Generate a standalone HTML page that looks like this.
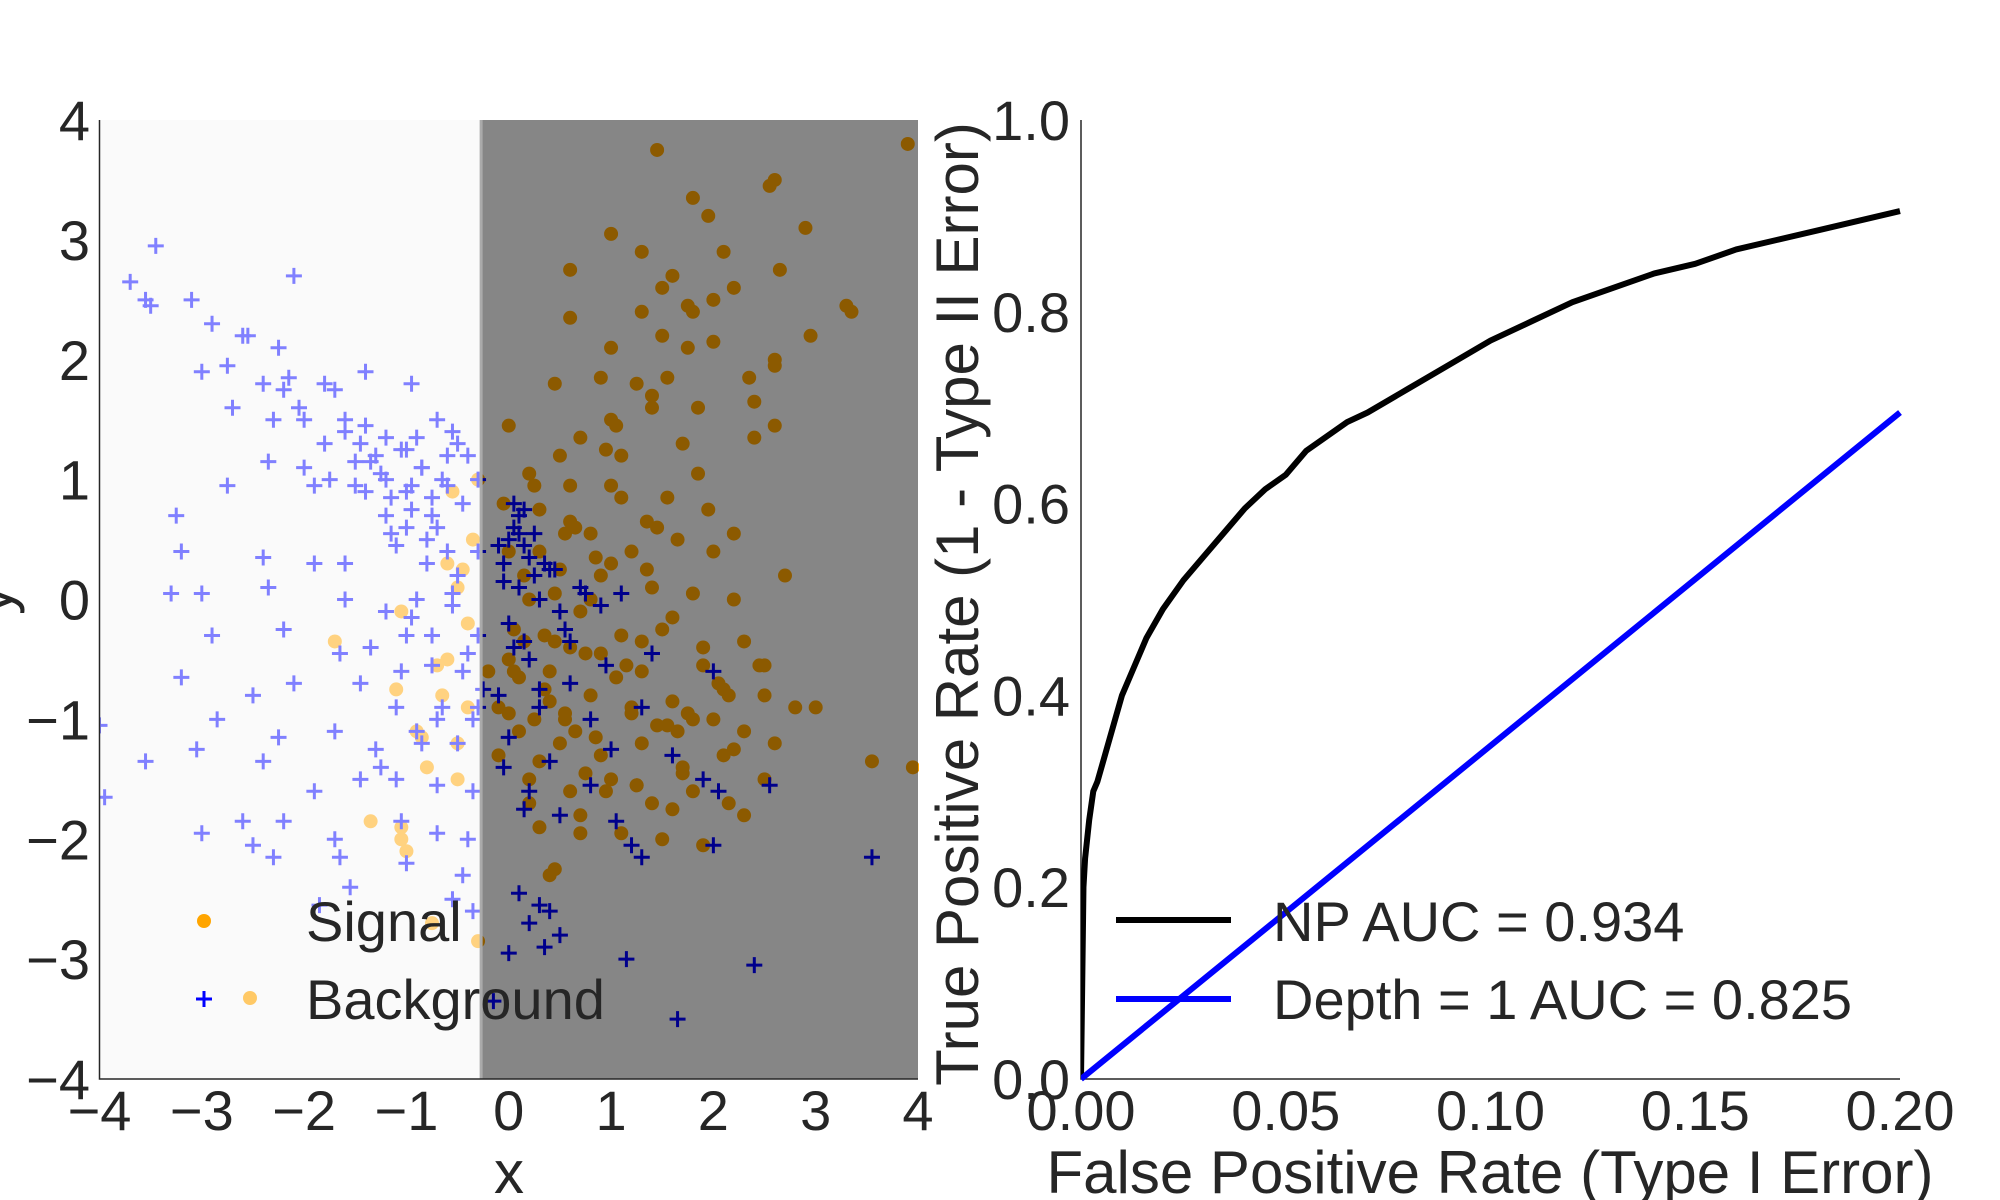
<!DOCTYPE html>
<html><head><meta charset="utf-8"><style>
html,body{margin:0;padding:0;background:#fff;}
svg{display:block;font-family:"Liberation Sans",sans-serif;}
</style></head><body>
<svg id="chart" width="2000" height="1200" viewBox="0 0 2000 1200">
<defs>
<clipPath id="clipL"><rect x="99" y="120" width="820" height="960"/></clipPath>
<clipPath id="clipR"><rect x="1081" y="115" width="825" height="968"/></clipPath>
</defs>
<g id="left"></g>
<g id="right"></g>
</svg>
<script>
const NS="http://www.w3.org/2000/svg";
// ---- scatter data ----
const signalX=[3.9,1.45,2.55,2.6,1.8,1.95,2.9,1.0,1.3,1.6,2.1,0.6,2.0,2.2,2.65,3.3,3.35,1.3,1.8,0.6,1.5,1.75,2.0,2.6,2.95,1.0,0.9,1.25,1.55,2.6,0.45,1.4,2.4,2.6,0.0,0.7,1.1,1.7,2.4,0.2,0.5,1.0,1.55,1.95,2.2,-0.05,0.3,0.6,0.8,1.2,1.65,2.0,0.0,0.5,0.9,1.4,1.8,2.2,0.2,0.7,1.1,1.5,1.9,2.5,2.5,0.0,0.4,0.8,1.2,1.6,2.0,2.3,2.8,3.0,0.1,0.5,0.9,1.3,1.7,2.1,2.6,0.2,0.6,1.0,1.4,1.8,2.5,3.55,3.95,0.3,0.7,1.1,1.5,1.9,2.3,0.4,0.45,-0.1,-0.1,0.3,0.8,1.3,0.6,-0.3,-0.55,-0.6,-0.5,-0.4,-1.05,-0.6,-0.65,-1.1,-0.4,-0.5,-0.85,-0.8,-0.5,-1.35,-1.05,-1.05,-1.0,-0.75,-0.3,-1.7,-0.35,0.15,0.35,0.75,1.05,1.45,1.75,0.25,0.65,1.0,1.35,1.7,0.05,0.55,0.95,0.1,0.35,0.55,0.85,1.15,1.35,1.6,1.85,2.1,2.3,0.05,0.25,0.45,0.65,0.9,1.1,1.25,1.45,1.65,1.85,2.05,2.35,2.7,0.15,0.4,0.6,0.85,1.05,1.3,1.55,1.75,2.15,0.0,0.3,0.55,0.75,1.0,1.2,1.4,1.6,1.9,2.2,2.45,0.2,0.45,0.7,0.95,1.25,1.5,1.8,2.15,-0.2,-0.45,-0.7,-0.9];
const signalY=[3.8,3.75,3.45,3.5,3.35,3.2,3.1,3.05,2.9,2.7,2.9,2.75,2.5,2.6,2.75,2.45,2.4,2.4,2.4,2.35,2.2,2.1,2.15,2.0,2.2,2.1,1.85,1.8,1.85,1.95,1.8,1.6,1.65,1.45,1.45,1.35,1.2,1.3,1.35,1.05,1.2,0.95,0.85,0.75,0.55,0.8,0.75,0.65,0.55,0.4,0.5,0.4,0.4,0.25,0.2,0.1,0.05,0.0,0.0,-0.1,-0.3,-0.25,-0.4,-0.55,-0.8,-0.5,-0.6,-0.8,-0.9,-0.85,-1.0,-1.1,-0.9,-0.9,-1.1,-1.2,-1.3,-1.2,-1.4,-1.3,-1.2,-1.5,-1.6,-1.5,-1.7,-1.6,-1.5,-1.35,-1.4,-1.9,-1.8,-1.95,-2.0,-2.05,-1.8,-2.3,-2.25,-0.9,-1.3,0.4,0.0,-0.6,-0.4,1.0,0.9,0.3,0.1,-0.2,-0.1,-0.5,-0.8,-0.75,-0.9,-1.2,-1.15,-1.4,-1.5,-1.85,-1.9,-2.0,-2.1,-2.7,-2.85,-0.35,0.5,-0.35,-0.75,-0.45,-0.65,-1.05,-0.95,0.95,0.6,1.5,0.25,-1.45,-0.6,-1.0,-1.6,-0.65,-0.3,-0.95,0.35,-0.55,0.65,-0.15,1.05,-0.75,-0.35,-0.25,-1.0,0.05,-1.1,-0.45,0.85,-1.55,0.6,-1.1,1.6,-0.7,1.85,0.2,0.2,-0.85,0.95,-1.15,1.45,-0.35,-1.05,2.45,-0.8,-0.95,-1.35,0.55,-1.45,0.3,-0.95,1.7,-1.75,-0.55,-1.25,-0.55,-1.7,-0.35,-1.95,1.25,-1.55,2.6,-1.0,-1.7,-0.6,0.25,-0.55,-1.1];
const bgX=[-3.45,-3.7,-3.5,-3.55,-3.1,-2.1,-2.9,-2.6,-2.55,-2.25,-3.0,-2.75,-2.4,-2.2,-1.8,-1.7,-1.4,-0.95,-2.7,-2.3,-2.05,-1.6,-1.4,-1.2,-0.9,-0.6,-0.3,-2.35,-2.0,-1.75,-1.5,-1.2,-1.0,-0.75,-0.45,-3.25,-2.75,-1.2,-0.95,-0.7,-3.2,-2.4,-1.9,-1.6,-1.1,-0.8,-0.5,-3.3,-3.0,-2.35,-1.6,-1.2,-0.9,-0.55,-2.9,-2.2,-1.65,-1.35,-1.0,-0.75,-3.2,-2.5,-2.1,-1.45,-1.1,-0.7,-0.3,-2.85,-2.25,-1.7,-1.3,-0.9,-0.5,-4.0,-3.55,-3.05,-2.4,-1.9,-1.45,-1.1,-0.7,-0.35,-3.95,-2.6,-2.2,-1.7,-1.05,-0.7,-0.4,-3.0,-2.5,-1.65,-1.0,-0.45,-0.35,-0.55,-1.55,-1.85,-2.3,-0.3,-0.3,-0.7,-0.5,-1.3,-1.5,-1.0,-0.85,-0.6,-1.15,-0.4,0.05,0.1,0.0,-0.05,0.2,0.1,0.3,0.5,0.0,0.2,0.7,0.9,1.1,0.6,0.95,1.4,2.0,-0.1,0.3,0.8,1.3,0.0,0.4,1.0,1.6,2.05,2.55,-0.05,0.2,0.5,1.05,0.8,1.9,0.15,1.2,1.3,2.0,3.55,0.1,0.3,0.2,0.4,0.5,0.35,0.0,1.15,2.4,1.65,-0.15,0.6,0.25,0.4,0.15,-0.1,-1.05,-1.25,-1.45,-0.85,-0.65,-1.15,-1.35,-0.95,-0.75,-0.55,-1.6,-1.8,-2.0,-1.0,-0.8,-0.6,-0.4,-1.4,-1.9,-2.15,-0.25,-0.45,-0.65,-0.85,-1.05,-1.25,-0.35,-0.55,-0.75,-0.95,0.05,0.15,0.25,-0.05,0.1,0.35,0.45,0.55,0.75,0.15,0.3,0.05];
const bgY=[2.95,2.65,2.45,2.5,2.5,2.7,2.3,2.2,2.2,2.1,1.9,1.95,1.8,1.75,1.8,1.75,1.9,1.8,1.6,1.5,1.6,1.5,1.45,1.35,1.35,1.2,1.0,1.15,1.1,1.0,0.95,1.0,0.9,0.85,0.8,0.7,0.95,0.7,0.75,0.6,0.4,0.35,0.3,0.3,0.45,0.3,0.2,0.05,0.05,0.1,0.0,-0.1,0.0,-0.05,-0.3,-0.25,-0.45,-0.4,-0.3,-0.55,-0.65,-0.8,-0.7,-0.7,-0.9,-1.0,-0.9,-1.0,-1.15,-1.1,-1.25,-1.1,-1.2,-1.05,-1.35,-1.25,-1.35,-1.6,-1.5,-1.5,-1.55,-1.6,-1.65,-1.85,-1.85,-2.0,-1.85,-1.95,-2.0,-1.95,-2.05,-2.15,-2.2,-2.3,-2.6,-2.5,-2.4,-2.55,-2.15,-0.3,0.4,1.5,1.3,1.2,1.15,1.25,1.1,0.95,0.55,-0.45,0.8,0.7,0.5,0.3,0.35,0.1,0.0,-0.1,-0.2,-0.5,0.1,-0.05,0.05,-0.35,-0.55,-0.45,-0.6,-0.8,-0.9,-1.0,-0.9,-1.15,-1.35,-1.25,-1.3,-1.6,-1.55,-1.4,-1.6,-1.8,-1.85,-1.55,-1.5,-1.75,-2.05,-2.15,-2.05,-2.15,-2.45,-2.55,-2.7,-2.6,-2.8,-2.9,-2.95,-3.0,-3.05,-3.5,-3.35,-0.7,0.55,0.25,0.75,0.45,1.25,1.05,1.3,1.1,1.0,0.85,1.15,0.95,0.7,1.4,1.4,1.3,1.5,0.6,0.5,0.4,1.2,0.9,0.95,1.85,-0.75,-0.6,-0.9,-1.2,-0.6,-1.4,-1.0,0.05,-0.3,-0.15,0.6,0.45,0.2,0.15,0.55,0.3,0.25,-0.25,0.05,-0.35,-0.75,-0.4];
const xTicks=[-4,-3,-2,-1,0,1,2,3,4];
const yTicks=[-4,-3,-2,-1,0,1,2,3,4];
const boundary=[-0.27];
// ---- ROC data ----
const npFpr=[0,0.0003,0.0006,0.001,0.002,0.003,0.004,0.006,0.008,0.01,0.013,0.016,0.02,0.025,0.03,0.035,0.04,0.045,0.05,0.055,0.06,0.065,0.07,0.08,0.09,0.10,0.11,0.12,0.13,0.14,0.15,0.16,0.17,0.18,0.19,0.20];
const npTpr=[0,0.1,0.2,0.23,0.27,0.3,0.31,0.34,0.37,0.4,0.43,0.46,0.49,0.52,0.545,0.57,0.595,0.615,0.63,0.655,0.67,0.685,0.695,0.72,0.745,0.77,0.79,0.81,0.825,0.84,0.85,0.865,0.875,0.885,0.895,0.905];
const stumpFpr=[0,0.2];
const stumpTpr=[0,0.695];
const rocXTicks=[0.00,0.05,0.10,0.15,0.20];
const rocYTicks=[0.0,0.2,0.4,0.6,0.8,1.0];

const L={x0:99.5,x1:918,y0:1079,y1:120};
const R={x0:1081,x1:1900,y0:1079,y1:120};
const sx=v=>L.x0+(v+4)/8*(L.x1-L.x0);
const sy=v=>L.y0-(v+4)/8*(L.y0-L.y1);
const rx=v=>R.x0+v/0.2*(R.x1-R.x0);
const ry=v=>R.y0-v*(R.y0-R.y1);
const FS=56, LFS=60;
function el(tag,attrs,parent,txt){const e=document.createElementNS(NS,tag);for(const k in attrs)e.setAttribute(k,attrs[k]);if(txt!==undefined)e.textContent=txt;parent.appendChild(e);return e;}
const left=document.getElementById('left'),right=document.getElementById('right');

// left panel
const bgRect=el('rect',{x:L.x0,y:L.y1,width:L.x1-L.x0,height:L.y0-L.y1,fill:'#f5f5f5'},left);


const pts=el('g',{'clip-path':'url(#clipL)'},left);


for(let i=0;i<signalX.length;i++){
  const c=el('circle',{cx:sx(signalX[i]),cy:sy(signalY[i]),r:7,fill:'#ffa500'},pts);
  
  
}
for(let i=0;i<bgX.length;i++){
  const x=sx(bgX[i]),y=sy(bgY[i]);
  const p=el('path',{d:`M${x-8} ${y}H${x+8}M${x} ${y-8}V${y+8}`,stroke:'#0000ff','stroke-width':3},pts);
  
  
}
const bx=sx(boundary[0]);
const ovL=el('rect',{x:L.x0,y:L.y1,width:bx-L.x0,height:L.y0-L.y1,fill:'#fff','fill-opacity':0.5},left);


const ovR=el('rect',{x:bx,y:L.y1,width:L.x1-bx,height:L.y0-L.y1,fill:'#000','fill-opacity':0.45},left);


el('line',{x1:bx,x2:bx,y1:L.y1,y2:L.y0,stroke:'#aaa','stroke-width':3},left);
const ax1=el('path',{d:`M${L.x0} ${L.y1}V${L.y0}H${L.x1}`,stroke:'#262626','stroke-width':1.5,fill:'none'},left);


xTicks.forEach(t=>{const e=el('text',{x:sx(t),y:1130,'font-size':FS,'text-anchor':'middle',fill:'#262626'},left,t<0?'\u2212'+(-t):String(t));

});
yTicks.forEach(t=>{const e=el('text',{x:90,y:sy(t)+20,'font-size':FS,'text-anchor':'end',fill:'#262626'},left,t<0?'\u2212'+(-t):String(t));

});
const xl=el('text',{x:509,y:1193,'font-size':LFS,'text-anchor':'middle',fill:'#262626'},left,'x');


const yl=el('text',{x:0,y:0,'font-size':LFS,'text-anchor':'middle',fill:'#262626',transform:'translate(12,600) rotate(-90)'},left,'y');


// left legend
const lg=el('g',{},left);


el('circle',{cx:204,cy:921,r:7,fill:'#ffa500'},lg);
const t1=el('text',{x:306,y:941,'font-size':FS,fill:'#262626'},lg,'Signal');


el('path',{d:'M196 999H212M204 991V1007',stroke:'#0000ff','stroke-width':3},lg);
el('circle',{cx:250,cy:998,r:7,fill:'#ffc966'},lg);
const t2=el('text',{x:306,y:1019,'font-size':FS,fill:'#262626'},lg,'Background');



// right panel
const ax2=el('path',{d:`M${R.x0} ${R.y1}V${R.y0}H${R.x1}`,stroke:'#262626','stroke-width':1.5,fill:'none'},right);


const cg=el('g',{'clip-path':'url(#clipR)'},right);
const npPath=el('polyline',{points:npFpr.map((f,i)=>rx(f)+','+ry(npTpr[i])).join(' '),fill:'none',stroke:'#000','stroke-width':6,'stroke-linejoin':'round'},cg);


const stPath=el('polyline',{points:stumpFpr.map((f,i)=>rx(f)+','+ry(stumpTpr[i])).join(' '),fill:'none',stroke:'#0000ff','stroke-width':6},cg);


rocXTicks.forEach(t=>{const e=el('text',{x:rx(t),y:1130,'font-size':FS,'text-anchor':'middle',fill:'#262626'},right,t.toFixed(2));

});
rocYTicks.forEach(t=>{const e=el('text',{x:1070,y:ry(t)+20,'font-size':FS,'text-anchor':'end',fill:'#262626'},right,t.toFixed(1));

});
const rxl=el('text',{x:1490,y:1193,'font-size':LFS,'text-anchor':'middle',fill:'#262626'},right,'False Positive Rate (Type I Error)');


const ryl=el('text',{x:0,y:0,'font-size':LFS,'text-anchor':'middle',fill:'#262626',transform:'translate(978,604) rotate(-90)'},right,'True Positive Rate (1 - Type II Error)');


const rl=el('g',{},right);


el('line',{x1:1116,x2:1231,y1:920,y2:920,stroke:'#000','stroke-width':6},rl);
const r1=el('text',{x:1273,y:941,'font-size':FS,fill:'#262626'},rl,'NP AUC = 0.934');


el('line',{x1:1116,x2:1231,y1:999,y2:999,stroke:'#0000ff','stroke-width':6},rl);
const r2=el('text',{x:1273,y:1019,'font-size':FS,fill:'#262626'},rl,'Depth = 1 AUC = 0.825');


</script>
</body></html>
